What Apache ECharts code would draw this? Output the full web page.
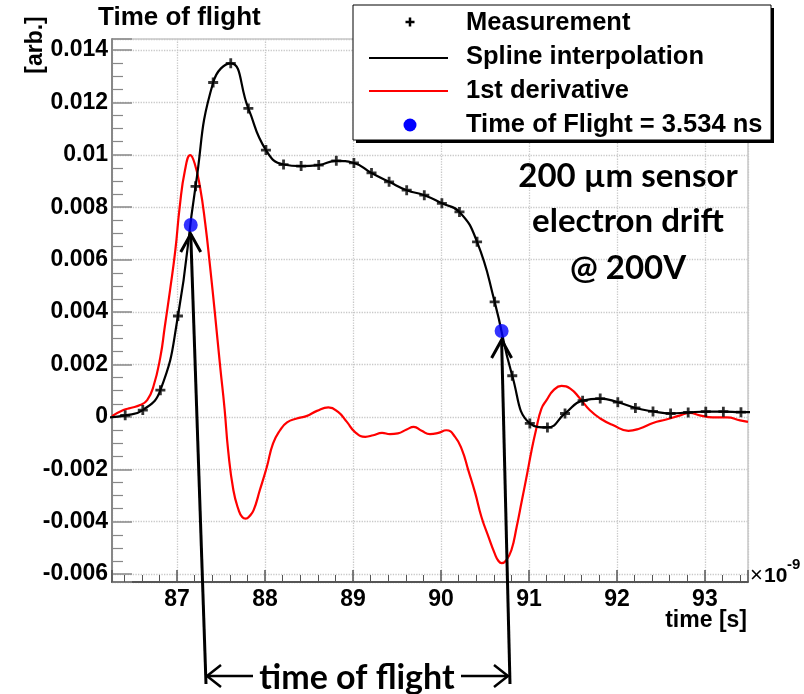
<!DOCTYPE html>
<html>
<head>
<meta charset="utf-8">
<script src="https://cdn.jsdelivr.net/npm/echarts@6/dist/echarts.min.js"></script>
<style>html,body{margin:0;padding:0;background:#fff}#c{width:804px;height:694px}</style>
</head>
<body>
<div id="c"></div>
<script>
// ---- data (time in ns, signal in arb.) ----
const measTime = [86.21, 86.41, 86.61, 86.81, 87.01, 87.21, 87.41, 87.61, 87.81, 88.01,
  88.21, 88.41, 88.61, 88.81, 89.01, 89.21, 89.41, 89.61, 89.81, 90.01,
  90.21, 90.41, 90.61, 90.81, 91.01, 91.21, 91.41, 91.61, 91.81, 92.01,
  92.21, 92.41, 92.61, 92.81, 93.01, 93.21, 93.41, 93.61];
const measValue = [-0.00002, 0.00006, 0.00026, 0.00102, 0.00385, 0.00880, 0.01276, 0.01349, 0.01177, 0.01018,
  0.00963, 0.00957, 0.00961, 0.00977, 0.00969, 0.00931, 0.00897, 0.00865, 0.00846, 0.00815,
  0.00782, 0.00668, 0.00439, 0.00157, -0.00025, -0.00040, 0.00013, 0.00062, 0.00070, 0.00056,
  0.00034, 0.00021, 0.00013, 0.00017, 0.00020, 0.00020, 0.00018, 0.00018];

const derivTime = [86.26, 86.39, 86.47, 86.58, 86.66, 86.73, 86.81, 86.86, 86.92, 86.98,
  87.03, 87.09, 87.15, 87.20, 87.26, 87.32, 87.375, 87.43, 87.49, 87.54,
  87.58, 87.64, 87.70, 87.74, 87.78, 87.82, 87.87, 87.94, 88.02, 88.09, 88.17, 88.25,
  88.36, 88.47, 88.59, 88.72, 88.83, 88.93, 89.02, 89.14, 89.23, 89.33,
  89.42, 89.51, 89.61, 89.69, 89.78, 89.875, 89.97, 90.06, 90.16, 90.24,
  90.31, 90.39, 90.46, 90.54, 90.61, 90.65, 90.69, 90.74, 90.80, 90.86, 90.92,
  90.98, 91.03, 91.08, 91.14, 91.20, 91.28, 91.37, 91.47, 91.58, 91.69,
  91.81, 91.96, 92.13, 92.26, 92.41, 92.56, 92.72, 92.83, 92.94, 93.09,
  93.25, 93.40, 93.49];
const derivValue = [0.00003, 0.00026, 0.00034, 0.00045, 0.00064, 0.00115, 0.00229, 0.00344, 0.00484, 0.00636,
  0.00802, 0.00942, 0.00999, 0.00967, 0.00878, 0.00738, 0.00573, 0.00395, 0.00191, 0.00030,
  -0.00127, -0.00280, -0.00356, -0.00382, -0.00388, -0.00380, -0.00356, -0.00280, -0.00191, -0.00102, -0.00051, -0.00021,
  -0.00006, 0.00003, 0.00023, 0.00036, 0.00019, -0.00019, -0.00057, -0.00076, -0.00070, -0.00061,
  -0.00066, -0.00063, -0.00048, -0.00038, -0.00053, -0.00066, -0.00061, -0.00051, -0.00076, -0.00127,
  -0.00203, -0.00292, -0.00382, -0.00458, -0.00521, -0.00548, -0.00558, -0.00548, -0.00509, -0.00420, -0.00318,
  -0.00216, -0.00127, -0.00050, 0.00030, 0.00064, 0.00102, 0.00118, 0.00108, 0.00070, 0.00026,
  -0.00006, -0.00032, -0.00053, -0.00044, -0.00023, -0.00010, 0.00006, 0.00015, 0.00006, -0.00002,
  -0.00002, -0.00013, -0.00019];

const tofTime = [87.155, 90.689];
const tofValue = [0.00732, 0.00328];

const xTickLabels = ['87', '88', '89', '90', '91', '92', '93'];
const legendLabels = ['Measurement', 'Spline interpolation', '1st derivative', 'Time of Flight = 3.534 ns'];

// ---- chart ----
const chart = echarts.init(document.getElementById('c'), null, {renderer: 'canvas'});
const FONT = '"Liberation Sans", Arial, sans-serif';
const PLUS = 'path://M3.6,0H6.4V3.6H10V6.4H6.4V10H3.6V6.4H0V3.6H3.6Z';

const option = {
  animation: false,
  backgroundColor: '#ffffff',
  title: {
    text: 'Time of flight', left: 98, top: 5, padding: 0,
    textStyle: {fontFamily: FONT, fontWeight: 'bold', fontSize: 26, color: '#000'}
  },
  grid: {left: 112, right: 56, top: 39, bottom: 112, show: true, borderColor: '#aaaaaa', borderWidth: 1, outerBoundsMode: 'none'},
  xAxis: {
    type: 'value', min: 86.26, max: 93.49, splitNumber: 7,
    axisLine: {onZero: false, lineStyle: {color: '#555', width: 2}},
    axisTick: {inside: true, length: 12, lineStyle: {color: '#555', width: 1.5}},
    minorTick: {show: true, splitNumber: 5, length: 7, lineStyle: {color: '#555', width: 1}},
    splitLine: {show: true, lineStyle: {color: '#c8c8c8', type: 'dotted', width: 1.3}},
    axisLabel: {
      showMinLabel: false, showMaxLabel: false, margin: 6,
      fontFamily: FONT, fontWeight: 'bold', fontSize: 23, color: '#000',
      formatter: v => { const r = Math.round(v); return (Math.abs(v - r) < 1e-6 && xTickLabels.indexOf(String(r)) >= 0) ? String(r) : ''; }
    }
  },
  yAxis: {
    type: 'value', min: -0.0063, max: 0.01442, splitNumber: 10,
    axisLine: {onZero: false, lineStyle: {color: '#888', width: 2}},
    axisTick: {inside: true, length: 20, lineStyle: {color: '#888', width: 1.5}},
    minorTick: {show: true, splitNumber: 4, length: 11, lineStyle: {color: '#888', width: 1.2}},
    splitLine: {show: true, lineStyle: {color: '#c8c8c8', type: 'dotted', width: 1.3}},
    axisLabel: {
      showMinLabel: false, showMaxLabel: false, margin: 4,
      fontFamily: FONT, fontWeight: 'bold', fontSize: 23, color: '#000',
      formatter: v => { const r = Math.round(v * 1e4) / 1e4; return Math.abs(r * 500 - Math.round(r * 500)) < 1e-6 ? String(r) : ''; }
    }
  },
  series: [
    {
      name: '1st derivative', type: 'line', smooth: 0.5, showSymbol: false, z: 2,
      data: derivTime.map((t, i) => [t, derivValue[i]]),
      lineStyle: {color: '#ff0000', width: 2.2}
    },
    {
      name: 'Spline interpolation', type: 'line', smooth: 0.5, showSymbol: false, z: 3,
      data: measTime.map((t, i) => [t, measValue[i]]),
      lineStyle: {color: '#000', width: 2.2}
    },
    {
      name: 'Measurement', type: 'scatter', symbol: PLUS, symbolSize: 10, z: 4,
      data: measTime.map((t, i) => [t, measValue[i]]),
      itemStyle: {color: '#000'}
    },
    {
      name: 'Time of Flight', type: 'scatter', symbol: 'circle', symbolSize: 14, z: 5,
      data: tofTime.map((t, i) => [t, tofValue[i]]),
      itemStyle: {color: '#0000ff'}
    }
  ]
};
chart.setOption(option);

// ---- annotations ----
const p1 = chart.convertToPixel({gridIndex: 0}, [tofTime[0], tofValue[0]]);
const p2 = chart.convertToPixel({gridIndex: 0}, [tofTime[1], tofValue[1]]);
const AF = '"Lato", "Open Sans", sans-serif';
function vArrow(tip, bottom) {
  const tx = tip[0], ty = tip[1] + 9;
  return [
    {type: 'line', shape: {x1: tx, y1: ty, x2: bottom[0], y2: bottom[1]}, style: {stroke: '#000', lineWidth: 3}, z: 100},
    {type: 'polyline', shape: {points: [[tx - 10, ty + 18], [tx, ty], [tx + 10, ty + 18]]}, style: {stroke: '#000', lineWidth: 3, fill: null}, z: 100}
  ];
}
const graphics = [
  {type: 'text', x: 36, y: 45, rotation: Math.PI / 2, style: {text: '[arb.]', font: 'bold 23px ' + FONT, fill: '#000', align: 'center', verticalAlign: 'middle'}},
  {type: 'text', x: 747, y: 621, style: {text: 'time [s]', font: 'bold 23px ' + FONT, fill: '#000', align: 'right', verticalAlign: 'middle'}},
  {type: 'text', x: 750, y: 576, style: {text: '×', font: '22px ' + FONT, fill: '#000', align: 'left', verticalAlign: 'middle'}},
  {type: 'text', x: 764, y: 576, style: {text: '10', font: 'bold 21px ' + FONT, fill: '#000', align: 'left', verticalAlign: 'middle'}},
  {type: 'text', x: 787, y: 565, style: {text: '-9', font: 'bold 15px ' + FONT, fill: '#000', align: 'left', verticalAlign: 'middle'}},
  // legend box
  {type: 'rect', shape: {x: 356, y: 8, width: 418, height: 135}, style: {fill: '#000'}, z: 50},
  {type: 'rect', shape: {x: 353, y: 5, width: 418, height: 135}, style: {fill: '#fff', stroke: '#000', lineWidth: 1}, z: 51},
  {type: 'line', shape: {x1: 405.5, y1: 22, x2: 414.5, y2: 22}, style: {stroke: '#000', lineWidth: 2.5}, z: 52},
  {type: 'line', shape: {x1: 410, y1: 17.5, x2: 410, y2: 26.5}, style: {stroke: '#000', lineWidth: 2.5}, z: 52},
  {type: 'line', shape: {x1: 369, y1: 58, x2: 448, y2: 58}, style: {stroke: '#000', lineWidth: 2}, z: 52},
  {type: 'line', shape: {x1: 369, y1: 91, x2: 448, y2: 91}, style: {stroke: '#ff0000', lineWidth: 2}, z: 52},
  {type: 'circle', shape: {cx: 410, cy: 125, r: 6.5}, style: {fill: '#0000ff'}, z: 52},
  {type: 'text', x: 466, y: 23, style: {text: legendLabels[0], font: 'bold 25.5px ' + FONT, fill: '#000', verticalAlign: 'middle'}, z: 52},
  {type: 'text', x: 466, y: 57, style: {text: legendLabels[1], font: 'bold 25.5px ' + FONT, fill: '#000', verticalAlign: 'middle'}, z: 52},
  {type: 'text', x: 466, y: 91, style: {text: legendLabels[2], font: 'bold 25.5px ' + FONT, fill: '#000', verticalAlign: 'middle'}, z: 52},
  {type: 'text', x: 466, y: 125, style: {text: legendLabels[3], font: 'bold 25.5px ' + FONT, fill: '#000', verticalAlign: 'middle'}, z: 52},
  // sensor annotation
  {type: 'text', x: 628, y: 176, style: {text: '200 µm sensor', font: 'bold 33px ' + AF, fill: '#000', align: 'center', verticalAlign: 'middle'}, z: 60},
  {type: 'text', x: 628, y: 221, style: {text: 'electron drift', font: 'bold 33px ' + AF, fill: '#000', align: 'center', verticalAlign: 'middle'}, z: 60},
  {type: 'text', x: 628, y: 268, style: {text: '@ 200V', font: 'bold 33px ' + AF, fill: '#000', align: 'center', verticalAlign: 'middle'}, z: 60},
  // time of flight arrows
  ...vArrow(p1, [206, 684]),
  ...vArrow(p2, [510, 684]),
  {type: 'line', shape: {x1: 206, y1: 676, x2: 253, y2: 676}, style: {stroke: '#000', lineWidth: 2.5}, z: 100},
  {type: 'polyline', shape: {points: [[221, 665], [207, 676], [221, 687]]}, style: {stroke: '#000', lineWidth: 2.5, fill: null}, z: 100},
  {type: 'line', shape: {x1: 461, y1: 676, x2: 508, y2: 676}, style: {stroke: '#000', lineWidth: 2.5}, z: 100},
  {type: 'polyline', shape: {points: [[494, 665], [508, 676], [494, 687]]}, style: {stroke: '#000', lineWidth: 2.5, fill: null}, z: 100},
  {type: 'text', x: 357, y: 678, style: {text: 'time of flight', font: 'bold 34px ' + AF, fill: '#000', align: 'center', verticalAlign: 'middle'}, z: 100}
];
chart.setOption({graphic: graphics});
</script>
</body>
</html>
